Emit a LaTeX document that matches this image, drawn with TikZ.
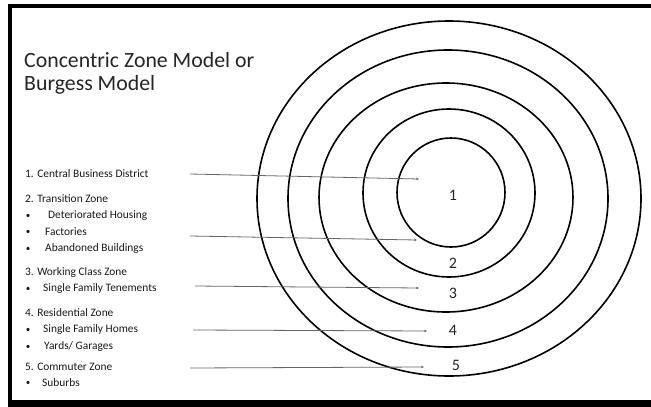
\documentclass[tikz,border=0pt]{standalone}
\usepackage{fontspec}
\setmainfont{Carlito}
\usetikzlibrary{arrows.meta}
\begin{document}
\begin{tikzpicture}[x=1pt,y=-1pt,
  ring/.style={line width=1.6pt,black},
  lead/.style={line width=0.8pt,black!60,-{Stealth[length=3pt,width=2.6pt]}},
  item/.style={anchor=west,inner sep=0pt,font=\fontsize{11.4}{12}\selectfont,text=black!90},
  bul/.style={anchor=center,inner sep=0pt,font=\fontsize{9}{10}\selectfont,text=black!90},
  zone/.style={inner sep=0pt,font=\fontsize{16}{18}\selectfont,text=black!85}]
\useasboundingbox (0,0) rectangle (651,407);
\fill[white] (0,0) rectangle (651,407);
\begin{scope}
\clip (0,0) rectangle (651,407);
\draw[line width=4pt,black] (10,6) rectangle (700,402);
\fill[black] (8,401) rectangle (651,407);
\end{scope}
% title
\node[anchor=base west,inner sep=0pt,font=\fontsize{21.8}{26}\selectfont,text=black!85] (title) at (24,67) {Concentric Zone Model or};
\node[anchor=base west,inner sep=0pt,font=\fontsize{21.8}{26}\selectfont,text=black!85] (title2) at (24,90) {Burgess Model};
% rings
\draw[ring] (451,192.5) ellipse [x radius=54,y radius=54.5];
\draw[ring] (449,193) ellipse [x radius=86,y radius=84];
\draw[ring] (446,197.5) ellipse [x radius=127,y radius=114.5];
\draw[ring] (448,198.5) ellipse [x radius=160,y radius=148.5];
\draw[ring] (449,198.5) ellipse [x radius=192,y radius=177.5];
% zone numbers
\node[zone] (z1) at (453,195) {1};
\node[zone] (z2) at (453,263) {2};
\node[zone] (z3) at (453,293) {3};
\node[zone] (z4) at (453,330) {4};
\node[zone] (z5) at (456,365) {5};
% list
\node[item] (t1) at (25,174) {1. Central Business District};
\node[item] (t2) at (25,199) {2. Transition Zone};
\node[bul] (b21) at (28,216) {•}; \node[item] (t21) at (48,216) {Deteriorated Housing};
\node[bul] (b22) at (28,232) {•}; \node[item] (t22) at (45,232) {Factories};
\node[bul] (b23) at (28,249) {•}; \node[item] (t23) at (45,249) {Abandoned Buildings};
\node[item] (t3) at (25,273) {3. Working Class Zone};
\node[bul] (b31) at (28,289) {•}; \node[item] (t31) at (43,289) {Single Family Tenements};
\node[item] (t4) at (25,313) {4. Residential Zone};
\node[bul] (b41) at (28,330) {•}; \node[item] (t41) at (43,330) {Single Family Homes};
\node[bul] (b42) at (28,347) {•}; \node[item] (t42) at (44,347) {Yards/ Garages};
\node[item] (t5) at (25,367) {5. Commuter Zone};
\node[bul] (b51) at (28,383) {•}; \node[item] (t51) at (42,383) {Suburbs};
% leader lines
\coordinate (s1) at (190,174); \coordinate (e1) at (419,179);
\coordinate (s2) at (190,236); \coordinate (e2) at (417,240);
\coordinate (s3) at (195,286); \coordinate (e3) at (419,288);
\coordinate (s4) at (193,330); \coordinate (e4) at (427,331);
\coordinate (s5) at (190,368); \coordinate (e5) at (424,367);
\draw[lead] (s1) -- (e1);
\draw[lead] (s2) -- (e2);
\draw[lead] (s3) -- (e3);
\draw[lead] (s4) -- (e4);
\draw[lead] (s5) -- (e5);
\end{tikzpicture}
\end{document}
